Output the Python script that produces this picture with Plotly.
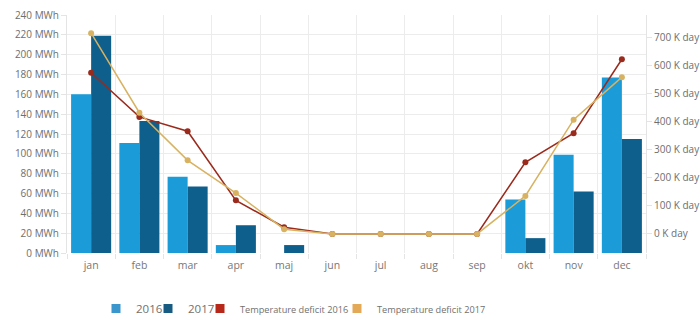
import plotly.graph_objects as go

months = ["jan", "feb", "mar", "apr", "maj", "jun", "jul", "aug", "sep", "okt", "nov", "dec"]

# Energy use per month (MWh)
energy_2016 = [160, 111, 77, 8, 0, 0, 0, 0, 0, 54, 99, 177]
energy_2017 = [219, 133, 67, 28, 8, 0, 0, 0, 0, 15, 62, 115]

# Temperature deficit per month (K day)
deficit_2016 = [576, 418, 367, 120, 24, 0, 0, 0, 0, 256, 360, 624]
deficit_2017 = [717, 433, 263, 146, 17, 0, 0, 0, 0, 136, 408, 560]

C_2016 = "#1b9bd8"
C_2017 = "#0f5f8c"
C_T16 = "#9a2a1c"
C_T17 = "#d8b260"
LEG_2016 = "#3a96cc"
LEG_2017 = "#175a82"
LEG_T16 = "#b8281a"
LEG_T17 = "#e3a957"

fig = go.Figure()

fig.add_trace(go.Bar(x=months, y=energy_2016, marker=dict(color=C_2016, line=dict(width=0)),
                     showlegend=False, legendgroup="e16"))
fig.add_trace(go.Bar(x=months, y=energy_2017, marker=dict(color=C_2017, line=dict(width=0)),
                     showlegend=False, legendgroup="e17"))

fig.add_trace(go.Scatter(x=months, y=deficit_2016, yaxis="y2", mode="lines+markers",
                         line=dict(color=C_T16, width=1.5), marker=dict(color=C_T16, size=6),
                         showlegend=False, legendgroup="t16"))
fig.add_trace(go.Scatter(x=months, y=deficit_2017, yaxis="y2", mode="lines+markers",
                         line=dict(color=C_T17, width=1.5), marker=dict(color=C_T17, size=6),
                         showlegend=False, legendgroup="t17"))

# square legend keys, one small legend per series
legend_keys = [
    ("2016", LEG_2016, 11.5, "legend", "e16"),
    ("2017", LEG_2017, 11.5, "legend2", "e17"),
    ("Temperature deficit 2016", LEG_T16, 9.2, "legend3", "t16"),
    ("Temperature deficit 2017", LEG_T17, 9.2, "legend4", "t17"),
]
for name, col, fs, leg, grp in legend_keys:
    fig.add_trace(go.Scatter(x=[None], y=[None], mode="markers",
                             marker=dict(symbol="square", color=col, size=9),
                             name=f'<span style="font-size:{fs}px">{name}</span>',
                             legend=leg, legendgroup=grp, showlegend=True))

legend_x = [96, 148, 200, 337]
legend_common = dict(orientation="h", xref="container", yref="container",
                     y=0.068, xanchor="left", yanchor="middle",
                     font=dict(size=11, color="#707070"), itemwidth=30,
                     bgcolor="rgba(0,0,0,0)")

fig.update_layout(
    width=700, height=331,
    margin=dict(l=67, r=54, t=15, b=78),
    paper_bgcolor="white", plot_bgcolor="white",
    font=dict(family="Open Sans", color="#6e6e6e", size=10),
    barmode="group", bargap=0.17, bargroupgap=0,
    showlegend=True,
    legend=dict(x=legend_x[0] / 700, **legend_common),
    legend2=dict(x=legend_x[1] / 700, **legend_common),
    legend3=dict(x=legend_x[2] / 700, **legend_common),
    legend4=dict(x=legend_x[3] / 700, **legend_common),
    xaxis=dict(range=[-0.5, len(months) - 0.5], tickson="boundaries",
               showgrid=True, gridcolor="#ececec", gridwidth=1,
               ticks="outside", ticklen=5, tickcolor="#e4e4e4",
               showline=False, ticklabelstandoff=4, automargin=False,
               tickfont=dict(size=10.5, color="#777777")),
    yaxis=dict(range=[0, 240], dtick=20, ticksuffix=" MWh",
               showgrid=True, gridcolor="#ececec", gridwidth=1,
               showline=True, linecolor="#e4e4e4", ticks="outside", ticklen=5,
               tickcolor="#e4e4e4", zeroline=False, automargin=False,
               tickfont=dict(size=10, color="#6e6e6e")),
    yaxis2=dict(overlaying="y", side="right", range=[-68, 782], dtick=100, tick0=0,
                ticksuffix=" K day", showgrid=False, zeroline=False,
                showline=True, linecolor="#e4e4e4", ticks="outside", ticklen=5,
                tickcolor="#e4e4e4", automargin=False,
                tickfont=dict(size=10, color="#6e6e6e")),
)

fig.write_html("out.html")
